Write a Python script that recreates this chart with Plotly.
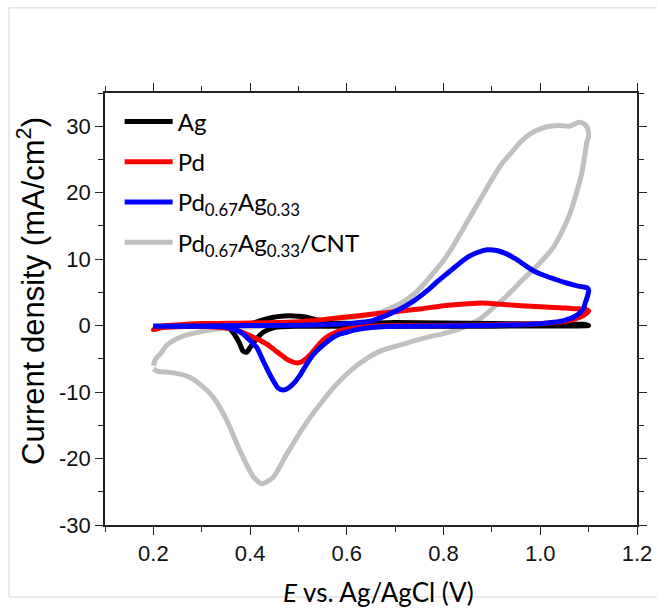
import plotly.graph_objects as go

# ---------------- data ----------------
# Pd0.67Ag0.33/CNT  (forward scan 0.2 -> 1.1 V, then reverse 1.1 -> 0.2 V)
cnt_x = [0.200, 0.205, 0.214, 0.227, 0.241, 0.26, 0.28, 0.31, 0.35, 0.40, 0.45, 0.50, 0.55, 0.59,
         0.63, 0.66, 0.69, 0.71, 0.74, 0.76, 0.78, 0.80, 0.82, 0.84, 0.86, 0.88, 0.90, 0.92, 0.94,
         0.96, 0.98, 1.00, 1.02, 1.04, 1.06, 1.07, 1.08, 1.09, 1.097, 1.10,
         1.096, 1.092, 1.086, 1.075, 1.062, 1.044, 1.024, 1.000, 0.965, 0.931, 0.896, 0.875, 0.84,
         0.80, 0.77, 0.72, 0.67, 0.64, 0.607, 0.579, 0.545, 0.51, 0.476, 0.448, 0.424, 0.407, 0.379,
         0.352, 0.324, 0.296, 0.276, 0.255, 0.23, 0.21, 0.20]
cnt_y = [-6.0, -5.0, -4.3, -3.0, -2.25, -1.6, -1.2, -0.75, -0.4, -0.2, 0.0, 0.3, 0.6, 1.0,
         1.4, 1.8, 2.6, 3.3, 4.8, 6.3, 8.0, 9.8, 12.0, 14.5, 17.0, 19.5, 22.0, 24.3, 26.0,
         27.7, 28.9, 29.6, 30.0, 30.1, 30.0, 30.3, 30.6, 30.4, 29.8, 28.6,
         27.5, 25.6, 23.0, 20.0, 17.0, 14.0, 11.5, 9.5, 7.0, 4.5, 2.25, 1.0, -0.3,
         -1.2, -1.7, -2.7, -3.8, -5.0, -6.8, -8.8, -11.8, -15.3, -19.3, -22.8, -23.8, -22.8, -18.8,
         -14.3, -10.8, -8.8, -7.8, -7.3, -7.0, -6.9, -6.5]

# Pd0.67Ag0.33
pdag_x = [0.20, 0.30, 0.40, 0.50, 0.56, 0.60, 0.63, 0.655, 0.69, 0.72, 0.74, 0.77, 0.79, 0.81, 0.83,
          0.85, 0.87, 0.89, 0.91, 0.93, 0.95, 0.97, 0.99, 1.01, 1.03, 1.05, 1.07, 1.09, 1.097, 1.10,
          1.098, 1.093, 1.089, 1.08, 1.068, 1.05, 1.027, 1.00, 0.944, 0.875, 0.80, 0.70, 0.65, 0.62,
          0.60, 0.586, 0.572, 0.558, 0.545, 0.53, 0.517, 0.503, 0.489, 0.479, 0.469, 0.458, 0.448,
          0.437, 0.427, 0.414, 0.40, 0.385, 0.365, 0.35, 0.30, 0.25, 0.20]
pdag_y = [-0.1, -0.05, 0.0, 0.05, 0.15, 0.3, 0.5, 0.8, 1.8, 2.9, 3.8, 5.5, 6.8, 8.0, 9.2,
          10.3, 11.0, 11.4, 11.3, 10.8, 10.0, 9.0, 8.1, 7.5, 7.0, 6.5, 6.1, 5.8, 5.7, 5.3,
          4.5, 3.4, 2.5, 1.8, 1.25, 0.8, 0.5, 0.3, 0.1, 0.0, -0.05, -0.1, -0.3, -0.6,
          -1.0, -1.25, -1.75, -2.5, -3.3, -4.4, -5.8, -7.5, -8.8, -9.4, -9.7, -9.4, -8.3,
          -6.8, -5.3, -3.3, -2.25, -1.2, -0.5, -0.2, -0.1, -0.1, -0.1]

# Pd
pd_x = [0.20, 0.21, 0.25, 0.30, 0.40, 0.50, 0.55, 0.60, 0.65, 0.70, 0.75, 0.80, 0.85, 0.88, 0.92,
        0.96, 1.00, 1.04, 1.07, 1.09, 1.10,
        1.095, 1.082, 1.065, 1.048, 1.02, 0.979, 0.90, 0.80, 0.70, 0.63, 0.60, 0.586, 0.572, 0.558,
        0.545, 0.531, 0.52, 0.51, 0.50, 0.489, 0.475, 0.462, 0.448, 0.434, 0.42, 0.407, 0.39, 0.365,
        0.33, 0.28, 0.22, 0.20]
pd_y = [-0.6, -0.2, 0.1, 0.3, 0.4, 0.6, 0.9, 1.3, 1.7, 2.1, 2.5, 3.0, 3.3, 3.4, 3.2,
        3.0, 2.85, 2.7, 2.55, 2.5, 2.2,
        1.8, 1.25, 0.85, 0.6, 0.4, 0.25, 0.1, 0.0, 0.0, -0.2, -0.5, -0.75, -1.2, -1.75,
        -2.6, -3.8, -4.7, -5.3, -5.6, -5.5, -5.0, -4.3, -3.5, -2.75, -2.2, -1.75, -1.2, -0.5,
        -0.2, -0.1, -0.3, -0.6]

# Ag
ag_x = [0.20, 0.30, 0.38, 0.40, 0.42, 0.448, 0.47, 0.483, 0.50, 0.517, 0.535, 0.545, 0.56, 0.60,
        0.70, 0.80, 0.90, 1.00, 1.05, 1.09, 1.10,
        1.00, 0.80, 0.60, 0.50, 0.45, 0.427, 0.41, 0.40, 0.393, 0.385, 0.379, 0.37, 0.358, 0.34,
        0.30, 0.20]
ag_y = [-0.2, -0.1, 0.0, 0.25, 0.7, 1.25, 1.45, 1.5, 1.4, 1.25, 0.9, 0.75, 0.4, 0.3,
        0.45, 0.4, 0.3, 0.25, 0.2, 0.2, 0.0,
        -0.05, -0.1, -0.1, -0.1, -0.3, -1.0, -2.3, -3.3, -4.0, -3.8, -2.8, -1.6, -0.5, -0.2,
        -0.1, -0.1]

series = [
    # name, x, y, color, legend rank
    ("Pd<sub>0.67</sub>Ag<sub>0.33</sub>/CNT", cnt_x, cnt_y, "#c0c0c0", 4),
    ("Ag", ag_x, ag_y, "#000000", 1),
    ("Pd", pd_x, pd_y, "#ff0000", 2),
    ("Pd<sub>0.67</sub>Ag<sub>0.33</sub>", pdag_x, pdag_y, "#0000ff", 3),
]

x_range = [0.1, 1.2]
y_range = [-30, 35]
y_tickvals = [-30, -20, -10, 0, 10, 20, 30]
y_ticktext = ["-30", "-20", "-10", "0", "10", "20", "30"]

fig = go.Figure()
for name, xs, ys, col, rank in series:
    fig.add_trace(go.Scatter(
        x=xs, y=ys, mode="lines", name=name,
        line=dict(color=col, width=5, shape="spline", smoothing=0.6),
        legendrank=rank, legendgroup=name,
    ))

axis_common = dict(
    showline=True, linecolor="#222222", linewidth=1.5, mirror="allticks",
    ticks="outside", ticklen=8, tickwidth=1.2, tickcolor="#222222",
    showgrid=False, zeroline=False, automargin=False,
    tickfont=dict(family="Liberation Sans, Arial", size=22, color="#111111"),
)

fig.update_layout(
    width=657, height=608,
    margin=dict(l=105, r=20, t=93, b=83),
    paper_bgcolor="white", plot_bgcolor="white",
    showlegend=True,
    legend=dict(
        x=0.0275, y=0.985, xanchor="left", yanchor="top",
        bgcolor="rgba(0,0,0,0)", borderwidth=0,
        font=dict(family="Lato", size=24, color="#000000"),
        tracegroupgap=6, itemwidth=48,
    ),
    xaxis=dict(
        range=x_range, tick0=0.2, dtick=0.2, tickformat=".1f",
        minor=dict(ticks="outside", ticklen=5, tick0=0.1, dtick=0.1, tickcolor="#222222"),
        **axis_common,
    ),
    yaxis=dict(
        range=y_range, tickmode="array", tickvals=y_tickvals, ticktext=y_ticktext,
        minor=dict(ticks="outside", ticklen=5, tick0=0, dtick=5, tickcolor="#222222"),
        **axis_common,
    ),
)

# axis titles placed as text at the reference positions
fig.add_annotation(
    text="Current density (mA/cm<sup>2</sup>)", textangle=-90,
    xref="paper", yref="paper", x=(31 - 105) / 532, y=(525 - 291) / 432,
    xanchor="center", yanchor="middle", showarrow=False,
    font=dict(family="Liberation Sans, Arial", size=31, color="#000000"),
)
fig.add_annotation(
    text="<i>E</i> vs. Ag/AgCl (V)",
    xref="paper", yref="paper", x=(378 - 105) / 532, y=(525 - 592) / 432,
    xanchor="center", yanchor="middle", showarrow=False,
    font=dict(family="Lato", size=26, color="#000000"),
)

# light grey frame of the original screenshot
fig.add_shape(type="rect", xref="paper", yref="paper",
              x0=-0.1805, x1=1.2, y0=-0.1667, y1=1.197,
              line=dict(color="#d4d4d4", width=1), layer="below")

fig.write_html("out.html")
